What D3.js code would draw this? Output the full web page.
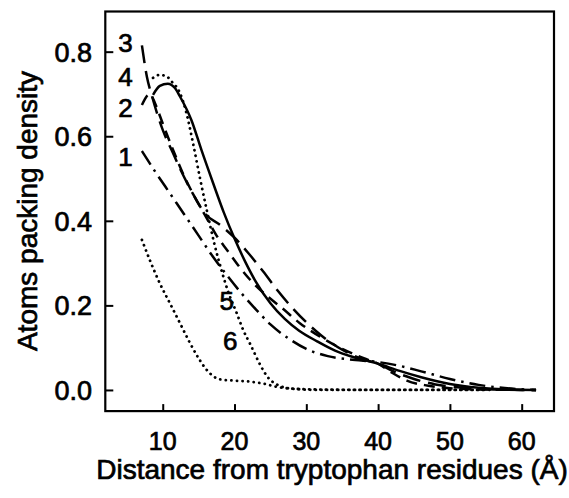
<!DOCTYPE html>
<html><head><meta charset="utf-8">
<script src="https://cdn.jsdelivr.net/npm/d3@7"></script>
<style>
html,body{margin:0;padding:0;background:#fff;}
svg text{font-family:"Liberation Sans",Arial,sans-serif;fill:#000;stroke:#000;stroke-width:0.7px;}
</style></head>
<body><svg id="chart" width="569" height="498"></svg>
<script>
// ---- data (x = distance in Å, y = atoms packing density) ----
const curve1X = [7.1, 9, 11, 13, 15, 17, 19, 21, 23, 25, 27.5, 30, 33, 36, 40, 43, 46, 50, 54, 58, 62];
const curve1Y = [0.565, 0.515, 0.465, 0.415, 0.365, 0.315, 0.27, 0.228, 0.19, 0.155, 0.122, 0.097, 0.08, 0.072, 0.066, 0.057, 0.044, 0.026, 0.012, 0.004, 0.0];

const curve2X = [7.1, 8.2, 9, 10, 11.5, 13, 14.5, 16, 17.5, 19, 20.5, 22.2, 24.7, 26.6, 29.1, 32, 35, 38, 40, 42, 44, 47, 50, 55, 62];
const curve2Y = [0.674, 0.70, 0.675, 0.63, 0.565, 0.505, 0.455, 0.41, 0.365, 0.33, 0.295, 0.26, 0.22, 0.194, 0.158, 0.125, 0.097, 0.075, 0.062, 0.04, 0.022, 0.01, 0.004, 0.001, 0.0];

const curve3X = [7.1, 7.8, 8.5, 10, 11.3, 12.5, 14, 16, 18, 20, 22, 24, 26, 28, 30, 32, 35, 38, 40, 42, 45, 48, 52, 56, 62];
const curve3Y = [0.815, 0.74, 0.695, 0.615, 0.565, 0.52, 0.47, 0.415, 0.39, 0.36, 0.322, 0.28, 0.235, 0.195, 0.16, 0.13, 0.095, 0.072, 0.062, 0.045, 0.026, 0.013, 0.005, 0.001, 0.0];

const curve4X = [8.65, 9.6, 10.7, 11.7, 12.4, 14, 15.4, 17, 18.5, 20, 21.5, 23, 25, 27, 29, 31.5, 34, 36.5, 40, 43, 46, 50, 54, 58, 62];
const curve4Y = [0.698, 0.719, 0.724, 0.714, 0.694, 0.638, 0.567, 0.49, 0.42, 0.358, 0.303, 0.255, 0.205, 0.168, 0.14, 0.115, 0.093, 0.078, 0.062, 0.045, 0.03, 0.014, 0.005, 0.001, 0.0];

const curve5X = [8.65, 9.5, 10.5, 11.2, 12.4, 13.3, 14.2, 15.2, 16.2, 17.2, 18.2, 19.2, 20.3, 21.2, 22.2, 23.5, 24.5, 26, 28, 32, 40, 50, 56];
const curve5Y = [0.738, 0.745, 0.742, 0.73, 0.702, 0.655, 0.585, 0.50, 0.42, 0.345, 0.282, 0.228, 0.182, 0.142, 0.108, 0.062, 0.033, 0.012, 0.003, 0.0, 0.0, 0.0, 0.0];

const curve6X = [7.1, 8.2, 9.6, 11, 12.4, 13.8, 15, 16, 17, 18, 20, 22, 24, 26, 28, 32, 40, 50, 55];
const curve6Y = [0.355, 0.307, 0.252, 0.205, 0.158, 0.111, 0.075, 0.05, 0.033, 0.025, 0.022, 0.02, 0.015, 0.007, 0.003, 0.001, 0.0, 0.0, 0.0];

const curveLabels = ["1", "2", "3", "4", "5", "6"];
const xTicks = [10, 20, 30, 40, 50, 60];
const yTicks = [0.0, 0.2, 0.4, 0.6, 0.8];
const xTitle = "Distance from tryptophan residues (Å)";
const yTitle = "Atoms packing density";

// ---- layout ----
const svg = d3.select("#chart");
const x = d3.scaleLinear().domain([2, 64.5]).range([105.3, 554]);
const y = d3.scaleLinear().domain([-0.05, 0.895]).range([411.1, 11.5]);

// series definitions (style only)
const series = [
  {xs: curve1X, ys: curve1Y, dash: "16,6,2.5,6", cap: "butt"},
  {xs: curve2X, ys: curve2Y, dash: "11,7", cap: "butt"},
  {xs: curve3X, ys: curve3Y, dash: "18,8", cap: "butt"},
  {xs: curve4X, ys: curve4Y, dash: null, cap: "butt"},
  {xs: curve5X, ys: curve5Y, dash: "0.1,5.5", cap: "round"},
  {xs: curve6X, ys: curve6Y, dash: "0.1,5.5", cap: "round"}
];

const line = d3.line().x(d => x(d[0])).y(d => y(d[1])).curve(d3.curveMonotoneX);

series.forEach(s => {
  const pts = s.xs.map((v, i) => [v, s.ys[i]]);
  svg.append("path").datum(pts)
    .attr("d", line)
    .attr("fill", "none")
    .attr("stroke", "#000")
    .attr("stroke-width", s.cap === "round" ? 2.8 : 2.5)
    .attr("stroke-linecap", s.cap)
    .attr("stroke-dasharray", s.dash);
});

// axes (ticks inward)
const x0 = x.range()[0], x1 = x.range()[1];
const y0 = y.range()[0], y1 = y.range()[1];

const xAxis = d3.axisTop(x).tickValues(xTicks).tickSize(7).tickFormat("");
svg.append("g").attr("transform", `translate(0,${y0})`).call(xAxis)
  .call(g => g.select(".domain").remove())
  .call(g => g.selectAll("line").attr("stroke-width", 2));

const yAxis = d3.axisRight(y).tickValues(yTicks).tickSize(8).tickFormat("");
svg.append("g").attr("transform", `translate(${x0},0)`).call(yAxis)
  .call(g => g.select(".domain").remove())
  .call(g => g.selectAll("line").attr("stroke-width", 2));

// frame
svg.append("rect").attr("x", x0).attr("y", y1)
  .attr("width", x1 - x0).attr("height", y0 - y1)
  .attr("fill", "none").attr("stroke", "#000").attr("stroke-width", 2.2);

// tick labels
svg.append("g").selectAll("text").data(xTicks).join("text")
  .attr("x", d => x(d)).attr("y", 450)
  .attr("text-anchor", "middle").attr("font-size", 25)
  .text(d => d);

svg.append("g").selectAll("text").data(yTicks).join("text")
  .attr("x", 92).attr("y", d => y(d) + 10)
  .attr("text-anchor", "end").attr("font-size", 27)
  .text(d => d3.format(".1f")(d));

// titles
svg.append("text").attr("x", 332).attr("y", 479)
  .attr("text-anchor", "middle").attr("font-size", 28)
  .text(xTitle);
svg.append("text")
  .attr("transform", `translate(37,211) rotate(-90)`)
  .attr("text-anchor", "middle").attr("font-size", 28)
  .text(yTitle);

// curve labels (positioned in data space)
const labelPos = [[4.8, 0.53], [4.8, 0.645], [4.8, 0.80], [4.8, 0.72], [18.9, 0.19], [19.4, 0.095]];
svg.append("g").selectAll("text").data(curveLabels).join("text")
  .attr("x", (d, i) => x(labelPos[i][0])).attr("y", (d, i) => y(labelPos[i][1]))
  .attr("text-anchor", "middle").attr("font-size", 26)
  .text(d => d);
</script></body></html>
